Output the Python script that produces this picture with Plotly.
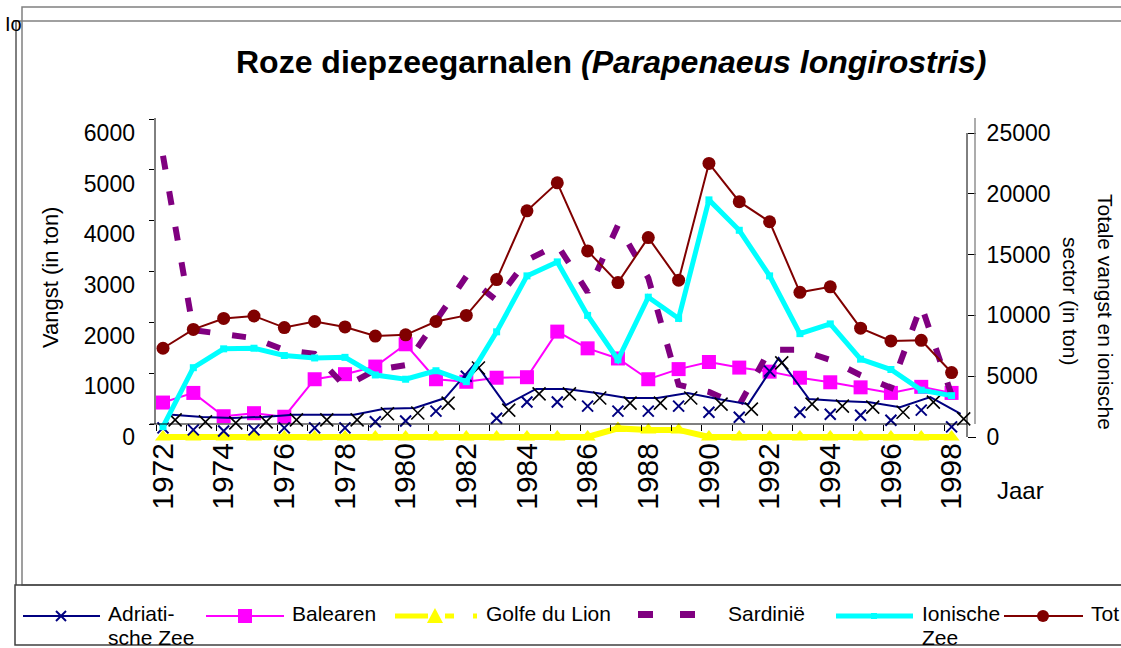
import plotly.graph_objects as go

W, H = 1121, 648

# ---------------- data ----------------
years = [1972, 1973, 1974, 1975, 1976, 1977, 1978, 1979, 1980, 1981, 1982, 1983, 1984, 1985,
         1986, 1987, 1988, 1989, 1990, 1991, 1992, 1993, 1994, 1995, 1996, 1997, 1998]
adriatische_zee = [180, 140, 120, 140, 180, 180, 180, 300, 315, 510, 1200, 370, 690, 690,
                   610, 510, 510, 610, 490, 390, 1300, 490, 450, 430, 330, 530, 200]
balearen = [680, 870, 410, 470, 400, 1140, 1240, 1390, 1830, 1140, 1090, 1170, 1180, 2080,
            1750, 1550, 1140, 1340, 1480, 1370, 1290, 1170, 1080, 980, 870, 990, 870]
golfe_du_lion = [0, 0, 0, 0, 0, 0, 0, 0, 0, 0, 0, 0, 0, 0,
                 0, 170, 140, 140, 0, 0, 0, 0, 0, 0, 0, 0, 0]
sardinie = [5550, 2110, 2030, 1950, 1720, 1640, 1000, 1320, 1420, 2290, 3170, 2700, 3490, 3790,
            2860, 4180, 3140, 1030, 890, 630, 1720, 1720, 1520, 1220, 970, 2600, 830]
ionische_zee = [850, 5700, 7250, 7300, 6700, 6500, 6550, 5100, 4750, 5450, 4550, 8650, 13250, 14400,
                10000, 6350, 11500, 9750, 19500, 17000, 13250, 8500, 9300, 6400, 5550, 3850, 3400]
totaal = [7300, 8850, 9750, 9950, 9000, 9500, 9050, 8300, 8400, 9500, 10000, 12950, 18600, 20900,
          15300, 12700, 16400, 12900, 22500, 19350, 17700, 11900, 12350, 8950, 7900, 7950, 5300]

left_ticks = [0, 1000, 2000, 3000, 4000, 5000, 6000]
right_ticks = [0, 5000, 10000, 15000, 20000, 25000]
year_labels = years[::2]

# ---------------- geometry helpers ----------------
FONT = "Liberation Sans, Arial, sans-serif"


def fx(px):
    return px / W


def fy(py):
    return 1 - py / H


X_LEFT, X_RIGHT = 155, 967
Y_TOP, Y_BOT = 118, 450
YEAR_PX = 30.33
X0_PX = 163
x_range = [years[0] - (X0_PX - X_LEFT) / YEAR_PX, years[0] + (X_RIGHT - X0_PX) / YEAR_PX]


def yrange(zero_px, top_val, top_px):
    per = top_val / (zero_px - top_px)
    return [-(Y_BOT - zero_px) * per, top_val + (top_px - Y_TOP) * per]


LINE_SHIFT = 0.3
XMARK_SHIFT = 0.4

fig = go.Figure()

fig.add_trace(go.Scatter(x=years, y=balearen, mode="lines+markers", name="Balearen",
                         line=dict(color="#FF00FF", width=2),
                         marker=dict(symbol="square", size=14, color="#FF00FF"),
                         xaxis="x", yaxis="y", cliponaxis=False))
fig.add_trace(go.Scatter(x=years, y=golfe_du_lion, mode="lines+markers", name="Golfe du Lion",
                         line=dict(color="#FFFF00", width=6),
                         marker=dict(symbol="triangle-up", size=14, color="#FFFF00"),
                         xaxis="x", yaxis="y", cliponaxis=False))
fig.add_trace(go.Scatter(x=years, y=sardinie, mode="lines", name="Sardinië",
                         line=dict(color="#800080", width=6, dash="14px,22px"),
                         xaxis="x", yaxis="y", cliponaxis=False))
fig.add_trace(go.Scatter(x=years, y=adriatische_zee, mode="markers", name="Adriatische Zee",
                         marker=dict(symbol="x-thin-open", size=11, color="#000080",
                                     line=dict(color="#000080", width=2)),
                         xaxis="x", yaxis="y", cliponaxis=False))
fig.add_trace(go.Scatter(x=[y + LINE_SHIFT for y in years], y=adriatische_zee, mode="lines",
                         line=dict(color="#000080", width=2), showlegend=False,
                         xaxis="x", yaxis="y2", cliponaxis=False))
fig.add_trace(go.Scatter(x=[y + XMARK_SHIFT for y in years], y=adriatische_zee, mode="markers",
                         marker=dict(symbol="x-thin-open", size=13, color="black",
                                     line=dict(color="black", width=1.6)),
                         showlegend=False, xaxis="x", yaxis="y3", cliponaxis=False))
fig.add_trace(go.Scatter(x=years, y=ionische_zee, mode="lines+markers", name="Ionische Zee",
                         line=dict(color="#00FFFF", width=5),
                         marker=dict(symbol="square", size=7, color="#00FFFF"),
                         xaxis="x", yaxis="y4", cliponaxis=False))
fig.add_trace(go.Scatter(x=years, y=totaal, mode="lines+markers", name="Totaal",
                         line=dict(color="#800000", width=2),
                         marker=dict(symbol="circle", size=13, color="#800000"),
                         xaxis="x", yaxis="y4", cliponaxis=False))
# carrier for the year labels axis
fig.add_trace(go.Scatter(x=years, y=[None] * len(years), mode="markers", showlegend=False,
                         xaxis="x2", yaxis="y", hoverinfo="skip"))

common_ax = dict(showgrid=False, zeroline=False, showline=False, automargin=False)

fig.update_layout(
    width=W, height=H,
    margin=dict(l=0, r=0, t=0, b=0, autoexpand=False),
    paper_bgcolor="white", plot_bgcolor="white",
    showlegend=False,
    font=dict(family=FONT, color="black"),
    xaxis=dict(domain=[fx(X_LEFT), fx(X_RIGHT)], range=x_range, anchor="free", position=fy(424),
               tickmode="array", tickvals=[y - 0.23 for y in years], ticks="outside", ticklen=6,
               tickcolor="black", showticklabels=False, **common_ax),
    xaxis2=dict(overlaying="x", range=x_range, anchor="free", position=fy(436),
                tickmode="array", tickvals=year_labels, ticktext=[str(y) for y in year_labels],
                tickangle=-90, ticks="", tickfont=dict(size=30, family=FONT), **common_ax),
    yaxis=dict(domain=[fy(Y_BOT), fy(Y_TOP)], range=yrange(437, 6000, 133), anchor="x", side="left",
               tickmode="array", tickvals=left_ticks, ticktext=[str(v) for v in left_ticks],
               ticks="", ticklabelstandoff=19,
               tickfont=dict(size=23, family=FONT), **common_ax),
    yaxis2=dict(overlaying="y", range=yrange(424, 6000, 119), anchor="x", side="left",
                tickmode="array", tickvals=left_ticks, ticks="outside", ticklen=5, tickcolor="black",
                showticklabels=False, **common_ax),
    yaxis3=dict(overlaying="y", range=yrange(429, 6000, 124), visible=False, automargin=False),
    yaxis4=dict(overlaying="y", range=yrange(437, 25000, 133), anchor="x", side="right",
                tickmode="array", tickvals=right_ticks, ticktext=[str(v) for v in right_ticks],
                ticks="outside", ticklen=8, tickcolor="black",
                ticklabelstandoff=6, tickfont=dict(size=23, family=FONT), **common_ax),
)

shapes = []


def hline(x0, x1, y, color="black", width=1):
    shapes.append(dict(type="line", xref="paper", yref="paper", x0=fx(x0), x1=fx(x1), y0=fy(y), y1=fy(y),
                       line=dict(color=color, width=width)))


def vline(x, y0, y1, color="black", width=1):
    shapes.append(dict(type="line", xref="paper", yref="paper", x0=fx(x), x1=fx(x), y0=fy(y0), y1=fy(y1),
                       line=dict(color=color, width=width)))


def rect(x0, y0, x1, y1, line_color=None, fill=None, width=1):
    d = dict(type="rect", xref="paper", yref="paper", x0=fx(x0), x1=fx(x1), y0=fy(y1), y1=fy(y0),
             line=dict(color=line_color or "rgba(0,0,0,0)", width=width if line_color else 0))
    if fill:
        d["fillcolor"] = fill
    shapes.append(d)


# chart frames
rect(22, 7, 1130, 585, line_color="#808080", width=1.5)
hline(13, 1130, 21, color="#808080", width=1.5)
vline(16, 21, 585, color="black", width=1)
rect(15, 585, 1130, 645, line_color="#404040", width=1.5)

# axes lines
vline(X_LEFT, 118, 424)
hline(150, X_RIGHT, 424)
vline(X_RIGHT, 133, 437)
vline(975, 118, 424, color="#909090", width=1.5)

# legend samples
LY = 616
hline(23, 100, LY, color="#000080", width=2)
shapes.append(dict(type="line", xref="paper", yref="paper", x0=fx(56), x1=fx(66), y0=fy(LY - 5), y1=fy(LY + 5),
                   line=dict(color="#000080", width=2)))
shapes.append(dict(type="line", xref="paper", yref="paper", x0=fx(56), x1=fx(66), y0=fy(LY + 5), y1=fy(LY - 5),
                   line=dict(color="#000080", width=2)))
hline(206, 284, LY, color="#FF00FF", width=2)
rect(238, LY - 7, 252, LY + 7, fill="#FF00FF")
hline(395, 428, LY, color="#FFFF00", width=5)
shapes.append(dict(type="path", xref="paper", yref="paper",
                   path="M %f %f L %f %f L %f %f Z" % (fx(427), fy(LY + 7), fx(443), fy(LY + 7), fx(435), fy(LY - 8)),
                   fillcolor="#FFFF00", line=dict(color="#FFFF00", width=0)))
hline(445, 454, LY, color="#FFFF00", width=5)
hline(473, 477, LY, color="#FFFF00", width=5)
rect(638, 611, 653, 618, fill="#800080")
rect(680, 611, 695, 618, fill="#800080")
hline(836, 913, LY, color="#00FFFF", width=5)
rect(871, LY - 3, 877, LY + 3, fill="#00FFFF")
hline(1004, 1083, LY, color="#800000", width=2)
shapes.append(dict(type="circle", xref="paper", yref="paper", x0=fx(1037), x1=fx(1049), y0=fy(LY + 6),
                   y1=fy(LY - 6), fillcolor="#800000", line=dict(color="#800000", width=0)))

fig.update_layout(shapes=shapes)

ann = []


def text(x, y, s, size, xanchor="left", yanchor="middle", angle=0):
    ann.append(dict(xref="paper", yref="paper", x=fx(x), y=fy(y), text=s, showarrow=False,
                    xanchor=xanchor, yanchor=yanchor, textangle=angle,
                    font=dict(size=size, family=FONT, color="black")))


text(611, 62, "<b>Roze diepzeegarnalen <i>(Parapenaeus longirostris)</i></b>", 32, xanchor="center")
text(50, 278, "Vangst (in ton)", 22, xanchor="center", angle=-90)
text(1105, 312, "Totale vangst en ionische", 21, xanchor="center", angle=90)
text(1070, 301, "sector (in ton)", 21, xanchor="center", angle=90)
text(995, 490, "Jaar", 24)
text(3, 24, "Io", 20)

text(106, 613, "Adriati-", 21)
text(106, 637, "sche Zee", 21)
text(290, 613, "Balearen", 21)
text(484, 613, "Golfe du Lion", 21)
text(726, 613, "Sardinië", 21)
text(920, 613, "Ionische", 21)
text(920, 637, "Zee", 21)
text(1089, 613, "Tot", 21)

fig.update_layout(annotations=ann)

fig.write_html("out.html", config={"displayModeBar": False},
               post_script="document.body.style.margin='0';document.body.style.overflow='hidden';")
